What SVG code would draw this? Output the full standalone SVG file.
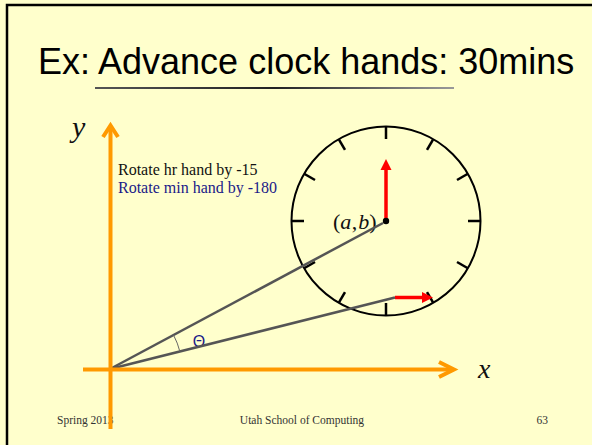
<svg xmlns="http://www.w3.org/2000/svg" width="592" height="445" viewBox="0 0 592 445">
<defs>
<style>
.axis{stroke:#FF9900;stroke-width:4;fill:none}
.gray{stroke:#555;stroke-width:2.5;fill:none}
.tick{stroke:#000;stroke-width:2.5}
.red{stroke:#FF0000;stroke-width:3.5;fill:none}
.serif{font-family:"Liberation Serif","Times New Roman",serif}
</style>
<linearGradient id="ul" x1="0" x2="1" y1="0" y2="0">
<stop offset="0" stop-color="#555"/>
<stop offset="0.5" stop-color="#222"/>
<stop offset="1" stop-color="#999"/>
</linearGradient>
</defs>
<rect x="0" y="0" width="592" height="445" fill="#FFFFCC"/>
<path d="M7,445 V5 H592" stroke="#000" stroke-width="2.5" fill="none"/>
<g id="title">
<text x="38" y="74" font-family="'Liberation Sans',Arial,sans-serif" font-size="36" fill="#000">Ex: Advance clock hands: 30mins</text>
<rect x="95" y="87" width="359" height="2" fill="url(#ul)"/>
</g>
<g id="footer" class="serif" font-size="11.5" fill="#333">
<text x="57" y="424">Spring 2013</text>
<text x="302" y="424" text-anchor="middle">Utah School of Computing</text>
<text x="548" y="424" text-anchor="end">63</text>
</g>
<g id="labels" class="serif">
<text x="118" y="175" font-size="16" fill="#111">Rotate hr hand by -15</text>
<text x="118" y="193" font-size="16" fill="#1a1a88">Rotate min hand by -180</text>
<text x="199" y="347" font-size="16" fill="#1a1a88" text-anchor="middle" font-family="'Liberation Sans',Arial,sans-serif">Θ</text>
</g>
<g id="clock">
<circle cx="386" cy="221" r="94.5" fill="none" stroke="#000" stroke-width="2"/>
<g transform="translate(386,221)">
<line class="tick" x1="0" y1="-94" x2="0" y2="-82"/>
<line class="tick" x1="0" y1="-94" x2="0" y2="-82" transform="rotate(30)"/>
<line class="tick" x1="0" y1="-94" x2="0" y2="-82" transform="rotate(60)"/>
<line class="tick" x1="0" y1="-94" x2="0" y2="-82" transform="rotate(90)"/>
<line class="tick" x1="0" y1="-94" x2="0" y2="-82" transform="rotate(120)"/>
<line class="tick" x1="0" y1="-94" x2="0" y2="-82" transform="rotate(150)"/>
<line class="tick" x1="0" y1="-94" x2="0" y2="-82" transform="rotate(180)"/>
<line class="tick" x1="0" y1="-94" x2="0" y2="-82" transform="rotate(210)"/>
<line class="tick" x1="0" y1="-94" x2="0" y2="-82" transform="rotate(240)"/>
<line class="tick" x1="0" y1="-94" x2="0" y2="-82" transform="rotate(270)"/>
<line class="tick" x1="0" y1="-94" x2="0" y2="-82" transform="rotate(300)"/>
<line class="tick" x1="0" y1="-94" x2="0" y2="-82" transform="rotate(330)"/>
</g>
<text class="serif" x="333" y="229" font-size="22" fill="#111">(<tspan font-style="italic">a</tspan><tspan dx="0.5">,</tspan><tspan dx="1" font-style="italic">b</tspan>)</text>
</g>
<g id="hands">
<line class="red" x1="386" y1="221" x2="386" y2="168"/>
<polygon points="380.5,170 386,159 391.5,170" fill="#FF0000"/>
<line class="red" x1="395" y1="297.5" x2="424" y2="297.5"/>
<polygon points="422,292 433,297.5 422,303" fill="#FF0000"/>
</g>
<g id="connectors">
<line class="gray" x1="110" y1="369" x2="383" y2="223"/>
<line class="gray" x1="110" y1="369" x2="395" y2="297.5"/>
<path d="M173.5,335 A72,72 0 0 1 179.9,351.6" stroke="#666" stroke-width="1" fill="none"/>
</g>
<g id="axes">
<line class="axis" x1="83" y1="369.5" x2="453" y2="369.5"/>
<polyline class="axis" points="439,362 454,369.5 439,377"/>
<line class="axis" x1="110.5" y1="429" x2="110.5" y2="127"/>
<polyline class="axis" points="103,137 110.5,125.5 118,137"/>
<text class="serif" x="72" y="137" font-size="30" font-style="italic" fill="#111">y</text>
<text class="serif" x="478" y="378" font-size="28" font-style="italic" fill="#111">x</text>
</g>
<circle cx="386" cy="221" r="3.2" fill="#000"/>
</svg>
